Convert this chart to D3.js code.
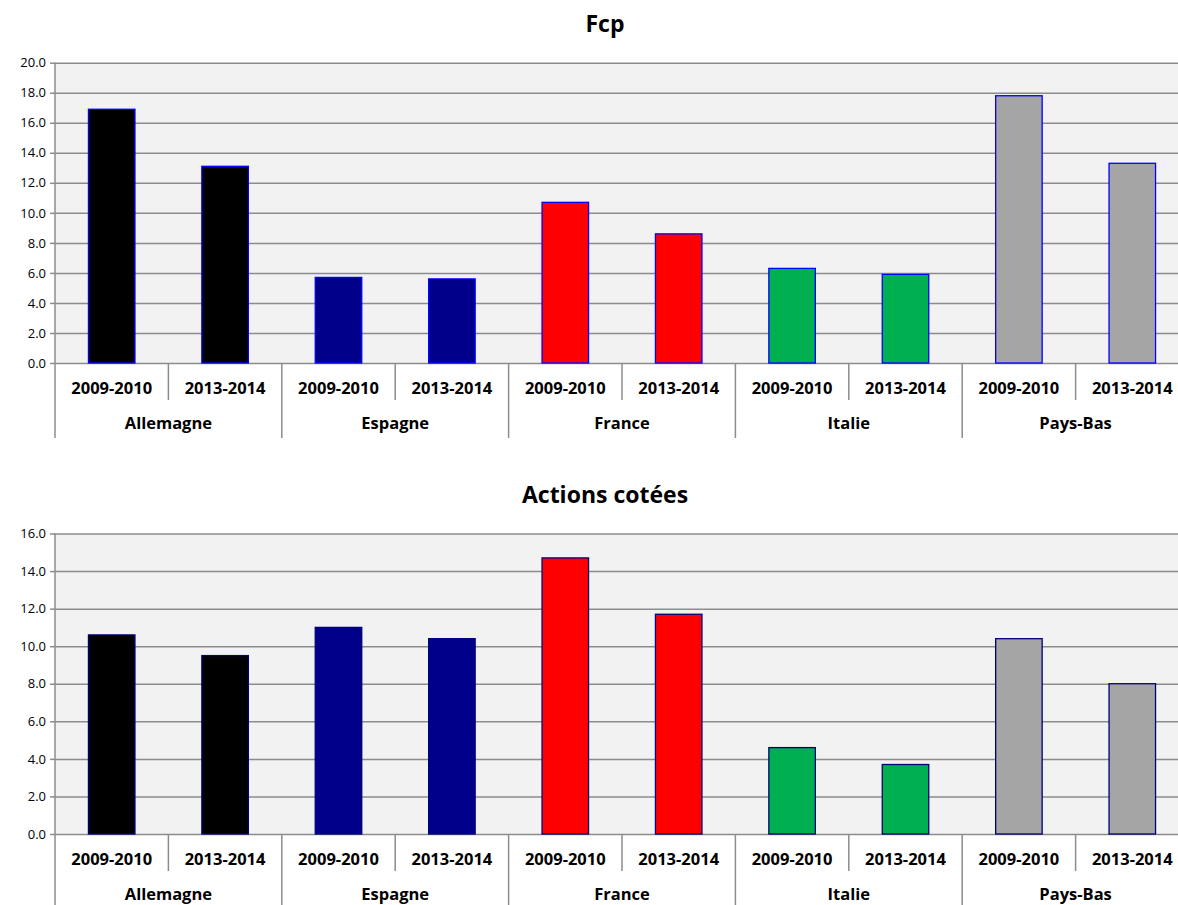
<!DOCTYPE html>
<html>
<head>
<meta charset="utf-8">
<script src="https://cdn.jsdelivr.net/npm/d3@7"></script>
<style>
  body { margin: 0; background: #fff; }
  svg { display: block; font-family: "Open Sans", sans-serif; }
</style>
</head>
<body>
<div id="chart"></div>
<script>
// data
const countries = ['Allemagne', 'Espagne', 'France', 'Italie', 'Pays-Bas'];
const periods = ['2009-2010', '2013-2014'];
const countryColors = ['#000000', '#00008b', '#ff0000', '#00b050', '#a5a5a5'];
const fcpValues = [16.9, 13.1, 5.7, 5.6, 10.7, 8.6, 6.3, 5.9, 17.8, 13.3];
const actionsValues = [10.6, 9.5, 11.0, 10.4, 14.7, 11.7, 4.6, 3.7, 10.4, 8.0];
const fcpTicks = [0, 2, 4, 6, 8, 10, 12, 14, 16, 18, 20];
const actionsTicks = [0, 2, 4, 6, 8, 10, 12, 14, 16];

const svg = d3.select('#chart').append('svg')
    .attr('width', 1178)
    .attr('height', 905);

const left = 55;
const slotWidth = 113.4;
const width = slotWidth * countries.length * periods.length;

function drawChart(top, bottom, title, titleY, values, ticks, barStroke) {
    const g = svg.append('g');

    const keys = [];
    countries.forEach(c => periods.forEach(p => keys.push(c + '|' + p)));
    const rows = keys.map((k, i) => ({
        key: k,
        country: k.split('|')[0],
        period: k.split('|')[1],
        value: values[i]
    }));

    // scales
    const x = d3.scaleBand()
        .domain(keys)
        .range([left, left + width])
        .paddingInner(0.59)
        .paddingOuter(0.295);

    const y = d3.scaleLinear()
        .domain([0, d3.max(ticks)])
        .range([bottom, top]);

    const color = d3.scaleOrdinal()
        .domain(countries)
        .range(countryColors);

    // plot background
    g.append('rect')
        .attr('x', left)
        .attr('y', top)
        .attr('width', width)
        .attr('height', bottom - top)
        .attr('fill', '#f2f2f2');

    // gridlines
    const grid = g.append('g')
        .attr('transform', 'translate(' + left + ',0)')
        .call(d3.axisLeft(y).tickValues(ticks).tickSize(-width).tickFormat(''));
    grid.select('.domain').remove();
    grid.selectAll('line')
        .attr('stroke', '#8c8c8c')
        .attr('stroke-width', 1.5);

    // y axis
    const yAxis = d3.axisLeft(y)
        .tickValues(ticks)
        .tickFormat(d3.format('.1f'))
        .tickSize(5)
        .tickPadding(4);

    const yg = g.append('g')
        .attr('transform', 'translate(' + left + ',0)')
        .call(yAxis);
    yg.select('.domain').remove();
    yg.selectAll('line').attr('stroke', '#8c8c8c').attr('stroke-width', 1.5);
    yg.selectAll('text')
        .attr('font-size', 13)
        .attr('fill', '#000')
        .attr('font-family', '"Open Sans", sans-serif');

    // left axis line (runs down through category labels)
    g.append('line')
        .attr('x1', left).attr('x2', left)
        .attr('y1', top).attr('y2', bottom + 75)
        .attr('stroke', '#8c8c8c')
        .attr('stroke-width', 1.5);

    // bars
    g.selectAll('.bar')
        .data(rows)
        .enter()
        .append('rect')
        .attr('class', 'bar')
        .attr('x', d => x(d.key))
        .attr('y', d => y(d.value))
        .attr('width', x.bandwidth())
        .attr('height', d => y(0) - y(d.value))
        .attr('fill', d => color(d.country))
        .attr('stroke', barStroke)
        .attr('stroke-width', 1.3);

    // category axis: separators
    const step = x.step();
    rows.forEach((d, i) => {
        if (i === 0) return;
        const sx = x(d.key) - x.paddingOuter() * step;
        const isCountryEdge = i % periods.length === 0;
        g.append('line')
            .attr('x1', sx).attr('x2', sx)
            .attr('y1', bottom)
            .attr('y2', bottom + (isCountryEdge ? 75 : 37))
            .attr('stroke', '#8c8c8c')
            .attr('stroke-width', 1.5);
    });

    // period labels
    g.selectAll('.period')
        .data(rows)
        .enter()
        .append('text')
        .attr('class', 'period')
        .attr('x', d => x(d.key) + x.bandwidth() / 2)
        .attr('y', bottom + 31)
        .attr('text-anchor', 'middle')
        .attr('font-size', 16.5)
        .attr('font-weight', 'bold')
        .text(d => d.period);

    // country labels
    g.selectAll('.country')
        .data(countries)
        .enter()
        .append('text')
        .attr('class', 'country')
        .attr('x', (c, i) => {
            const a = x(c + '|' + periods[0]);
            const b = x(c + '|' + periods[periods.length - 1]);
            return (a + b + x.bandwidth()) / 2;
        })
        .attr('y', bottom + 66)
        .attr('text-anchor', 'middle')
        .attr('font-size', 16.5)
        .attr('font-weight', 'bold')
        .text(c => c);

    // title
    g.append('text')
        .attr('x', 605)
        .attr('y', titleY)
        .attr('text-anchor', 'middle')
        .attr('font-size', 23)
        .attr('font-weight', 'bold')
        .text(title);
}

drawChart(62.7, 363, 'Fcp', 32, fcpValues, fcpTicks, '#0000ff');
drawChart(533.5, 834, 'Actions cotées', 503, actionsValues, actionsTicks, '#00007a');
</script>
</body>
</html>
